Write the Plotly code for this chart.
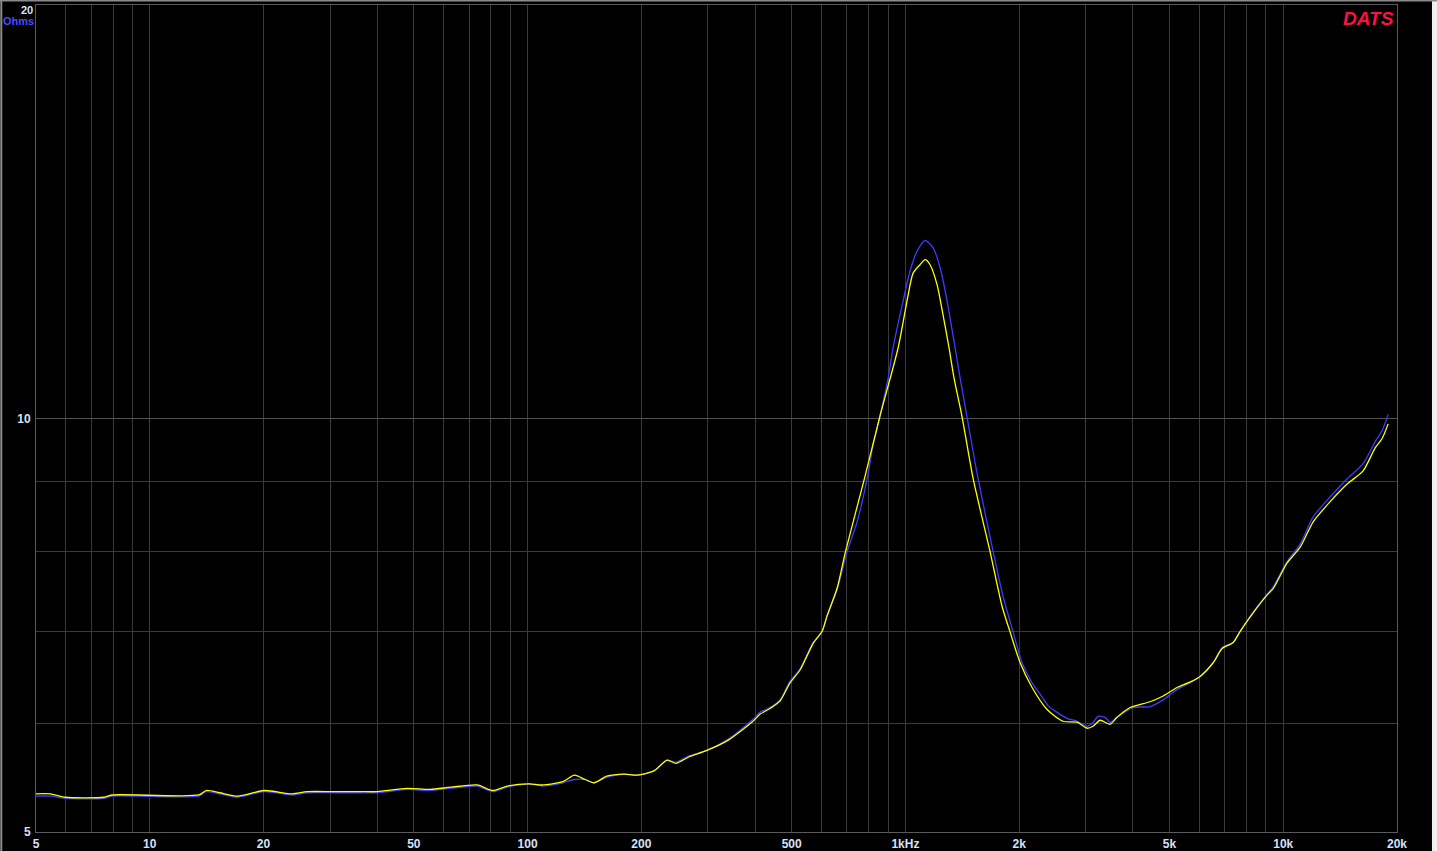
import plotly.graph_objects as go

BLUE = "#3c3cff"
YELLOW = "#ffff00"
GRID = "#3a3a3a"
TICK_FONT = "#d8e0f8"

# impedance sweep, blue trace (Hz, ohms)
freq_blue = [5, 5.45, 5.97, 7.57, 7.94, 13.5, 14.1, 15.3, 17.1, 20.1, 23.8, 26.1, 30.7, 36.0,
             40.0, 48.0, 55.2, 62.7, 73.5, 81.0, 88.3, 101, 109, 124, 133, 142, 150, 162, 180,
             195, 216, 234, 247, 267, 297, 339, 395, 412, 438, 466, 495, 526, 570, 602, 620,
             660, 701, 745, 792, 821, 857, 900, 927, 986, 1029, 1074, 1128, 1184, 1236, 1289,
             1354, 1396, 1456, 1557, 1707, 1814, 1928, 2036, 2164, 2272, 2386, 2521, 2679,
             2847, 3025, 3138, 3236, 3376, 3481, 3632, 4005, 4441, 4810, 5237, 5670, 6025,
             6523, 6891, 7369, 7690, 8325, 9066, 9404, 10241, 11085, 12000, 13310, 14760,
             16270, 17510, 18270, 18950]
ohms_blue = [5.31, 5.31, 5.29, 5.29, 5.31, 5.31, 5.35, 5.33, 5.30, 5.35, 5.32, 5.34, 5.34, 5.34,
             5.34, 5.37, 5.36, 5.38, 5.40, 5.35, 5.39, 5.42, 5.40, 5.43, 5.46, 5.46, 5.43, 5.48,
             5.51, 5.50, 5.54, 5.64, 5.62, 5.68, 5.73, 5.84, 6.04, 6.11, 6.16, 6.24, 6.44, 6.57,
             6.87, 7.00, 7.18, 7.51, 8.00, 8.41, 9.04, 9.56, 10.05, 10.70, 11.25, 12.18, 12.81,
             13.24, 13.48, 13.31, 12.87, 12.18, 11.25, 10.70, 10.02, 9.04, 8.00, 7.42, 6.99,
             6.64, 6.42, 6.30, 6.18, 6.11, 6.05, 6.02, 5.97, 6.01, 6.07, 6.06, 6.01, 6.06, 6.16,
             6.17, 6.24, 6.35, 6.42, 6.49, 6.64, 6.81, 6.87, 7.00, 7.23, 7.45, 7.54, 7.87, 8.10,
             8.48, 8.77, 9.04, 9.27, 9.62, 9.80, 10.07]

# yellow trace (Hz, ohms)
freq_yellow = [5, 5.45, 5.97, 7.57, 7.94, 13.5, 14.1, 15.3, 17.1, 20.1, 23.8, 26.1, 30.7, 36.0,
               40.0, 48.0, 55.2, 62.7, 73.5, 81.0, 88.3, 101, 109, 124, 133, 142, 150, 162, 180,
               195, 216, 234, 247, 267, 297, 339, 395, 412, 438, 466, 495, 526, 570, 602, 620,
               660, 694, 779, 857, 956, 1010, 1048, 1093, 1128, 1162, 1213, 1258, 1305, 1345,
               1413, 1511, 1675, 1802, 1893, 2012, 2164, 2371, 2614, 2847, 3025, 3138, 3276,
               3481, 3632, 3933, 4441, 4810, 5237, 5670, 6025, 6523, 6891, 7369, 7690, 8325,
               9066, 9404, 10241, 11085, 12000, 13310, 14760, 16270, 17510, 18270, 18950]
ohms_yellow = [5.33, 5.33, 5.30, 5.30, 5.32, 5.32, 5.36, 5.34, 5.31, 5.36, 5.33, 5.35, 5.35, 5.35,
               5.35, 5.38, 5.37, 5.39, 5.41, 5.36, 5.40, 5.42, 5.41, 5.44, 5.50, 5.46, 5.43, 5.49,
               5.51, 5.50, 5.54, 5.64, 5.61, 5.67, 5.73, 5.83, 6.02, 6.09, 6.15, 6.23, 6.42, 6.56,
               6.86, 7.00, 7.18, 7.53, 8.00, 9.04, 10.05, 11.25, 12.18, 12.76, 12.94, 13.05, 12.94,
               12.51, 11.89, 11.25, 10.70, 10.02, 9.04, 8.00, 7.30, 6.99, 6.64, 6.37, 6.14, 6.02,
               6.01, 5.95, 5.97, 6.03, 5.99, 6.06, 6.16, 6.22, 6.28, 6.37, 6.43, 6.49, 6.64, 6.80,
               6.87, 7.00, 7.22, 7.44, 7.52, 7.85, 8.06, 8.41, 8.70, 8.96, 9.16, 9.52, 9.67, 9.91]

x_ticks = [5, 10, 20, 50, 100, 200, 500, 1000, 2000, 5000, 10000, 20000]
x_labels = ["5", "10", "20", "50", "100", "200", "500", "1kHz", "2k", "5k", "10k", "20k"]
x_minor = [m * d for d in (1, 10, 100, 1000) for m in range(1, 10) if 5 < m * d < 20000]
y_ticks = [5, 10, 20]
y_labels = ["5", "10", ""]  # the top label "20" is drawn below the frame edge as an annotation
y_minor = [6, 7, 8, 9]

fig = go.Figure()
fig.add_trace(go.Scatter(x=freq_blue, y=ohms_blue, mode="lines",
                         line=dict(color=BLUE, width=1.3, shape="spline", smoothing=0.7),
                         showlegend=False))
fig.add_trace(go.Scatter(x=freq_yellow, y=ohms_yellow, mode="lines",
                         line=dict(color=YELLOW, width=1.3, shape="spline", smoothing=0.7),
                         showlegend=False))

fig.update_xaxes(
    type="log", range=[0.69897, 4.30103], automargin=False,
    tickmode="array", tickvals=x_ticks, ticktext=[f"<b>{t}</b>" for t in x_labels],
    showgrid=True, gridcolor=GRID, gridwidth=1,
    minor=dict(tickmode="array", tickvals=x_minor, showgrid=True, gridcolor=GRID, gridwidth=1),
    showline=True, linecolor="#5a5a5a", mirror=True,
    ticks="", ticklabelstandoff=1, zeroline=False,
    tickfont=dict(family="Liberation Sans Narrow, Liberation Sans, Arial", size=12, color=TICK_FONT),
)
fig.update_yaxes(
    type="log", range=[0.69897, 1.30103], automargin=False,
    tickmode="array", tickvals=y_ticks, ticktext=[f"<b>{t}</b>" if t else "" for t in y_labels],
    showgrid=True, gridcolor="#525252", gridwidth=1,
    minor=dict(tickmode="array", tickvals=y_minor, showgrid=True, gridcolor=GRID, gridwidth=1),
    showline=True, linecolor="#5a5a5a", mirror=True,
    ticks="", ticklabelstandoff=2, zeroline=False,
    tickfont=dict(family="Liberation Sans, Arial", size=12, color=TICK_FONT),
)

fig.add_annotation(text="<b>20</b>", xref="paper", yref="y", x=0, y=1.30103, xanchor="right",
                   yanchor="top", xshift=-1, yshift=3, showarrow=False,
                   font=dict(family="Liberation Sans, Arial", size=11, color=TICK_FONT))
fig.add_annotation(text="<b>Ohms</b>", xref="paper", yref="paper", x=0, y=1, xanchor="right",
                   yanchor="top", xshift=0, yshift=-8, showarrow=False,
                   font=dict(family="Liberation Sans, Arial", size=11, color="#4a4aff"))
fig.add_annotation(text="<b><i>DATS</i></b>", xref="paper", yref="paper", x=1, y=1,
                   xanchor="right", yanchor="top", xshift=-1, yshift=-1, showarrow=False,
                   font=dict(family="Liberation Sans, Arial", size=19, color="#ff1040"))

# window edges of the screenshot
fig.add_shape(type="rect", xref="paper", yref="paper", x0=1.0257, x1=1.04, y0=-0.1, y1=1.1,
              fillcolor="#f0f0f0", line_width=0, layer="above")
fig.add_shape(type="line", xref="paper", yref="paper", x0=-0.03, x1=1.04, y0=1.0055, y1=1.0055,
              line=dict(color="#8a8a8a", width=2))
fig.add_shape(type="line", xref="paper", yref="paper", x0=-0.0255, x1=-0.0255, y0=-0.1, y1=1.1,
              line=dict(color="#8a8a8a", width=2))

fig.update_layout(
    width=1437, height=851,
    paper_bgcolor="black", plot_bgcolor="black",
    margin=dict(l=36, r=40, t=5, b=19),
    hovermode=False,
)

fig.write_html("out.html", config={"displayModeBar": False},
               post_script="document.body.style.margin='0';")
